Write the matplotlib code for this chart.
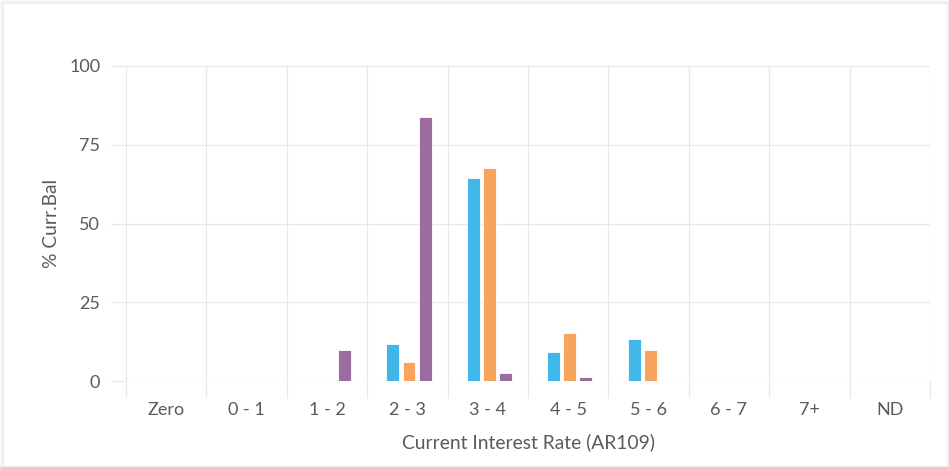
import matplotlib
matplotlib.use("Agg")
import matplotlib.pyplot as plt
import numpy as np
from matplotlib.patches import Rectangle

categories = ["Zero", "0 - 1", "1 - 2", "2 - 3", "3 - 4", "4 - 5", "5 - 6", "6 - 7", "7+", "ND"]
series_blue = [0, 0, 0, 11.7, 64.3, 9.3, 13.2, 0, 0, 0]
series_orange = [0, 0, 0, 5.9, 67.7, 15.1, 9.8, 0, 0, 0]
series_purple = [0, 0, 9.8, 83.9, 2.4, 1.4, 0, 0, 0, 0]
y_ticks = [0, 25, 50, 75, 100]

colors = ["#41b6e8", "#f8a45c", "#9c6b9f"]
text_color = "#5a5a5a"
grid_color = "#e8e8e8"

plt.rcParams['font.family'] = ['Lato', 'DejaVu Sans']

fig = plt.figure(figsize=(9.49, 4.67), dpi=100)
fig.patches.append(Rectangle((2/949, 0), 946/949, 465/467, transform=fig.transFigure,
                             fill=False, edgecolor="#efefef", linewidth=2.5))
ax = fig.add_axes([126/949, 1 - 381/467, (930 - 126)/949, (381 - 66)/467])

x = np.arange(len(categories))
w = 0.16
off = 0.2
for i, (vals, c) in enumerate(zip([series_blue, series_orange, series_purple], colors)):
    vals_arr = np.array(vals, dtype=float)
    mask = vals_arr > 0
    ax.bar(x[mask] + (i - 1) * off + 0.02, vals_arr[mask], width=w, color=c,
           edgecolor="white", linewidth=0.6, zorder=3)

ax.set_xlim(-0.5, len(categories) - 0.5)
ax.set_ylim(0, 100)
ax.set_yticks(y_ticks)
ax.set_xticks(x)
ax.set_xticklabels(categories)
ax.set_xticks(np.arange(-0.5, len(categories) + 0.5, 1), minor=True)

for s in ax.spines.values():
    s.set_visible(False)

ax.grid(True, which="major", axis="y", color=grid_color, linewidth=0.9, zorder=0)
ax.grid(True, which="minor", axis="x", color=grid_color, linewidth=0.9, zorder=0)

ax.tick_params(axis="y", which="major", length=10.5, color=grid_color, width=0.9,
               labelsize=13, labelcolor=text_color, pad=8)
ax.tick_params(axis="x", which="major", length=0, labelsize=13, labelcolor=text_color, pad=15)
ax.tick_params(axis="x", which="minor", length=12, color=grid_color, width=0.9)

ax.set_xlabel("Current Interest Rate (AR109)", fontsize=13.9, color=text_color, labelpad=11)
ax.set_ylabel("% Curr.Bal", fontsize=13.9, color=text_color, va="center")
ax.yaxis.set_label_coords((52 - 126) / 804, (381 - 223.5) / 315)

fig.savefig("out.png", dpi=100)
